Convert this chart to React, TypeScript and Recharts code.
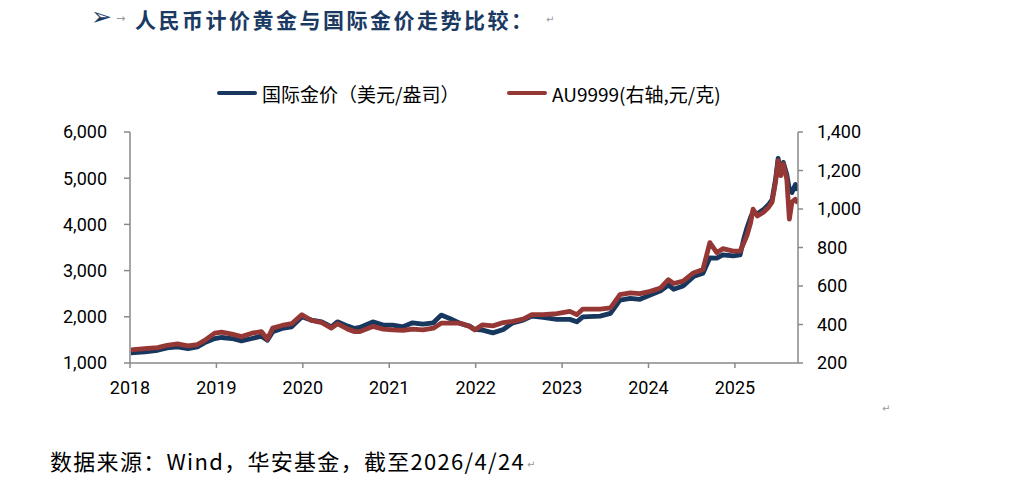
import { Line, LineChart, XAxis, YAxis } from "recharts";

// fractional year positions
const dates = [
  2018.01, 2018.17, 2018.32, 2018.43, 2018.55, 2018.67, 2018.78, 2018.86, 2018.98,
  2019.06, 2019.18, 2019.29, 2019.41, 2019.52, 2019.59, 2019.65, 2019.76, 2019.87, 2019.99,
  2020.1, 2020.22, 2020.33, 2020.4, 2020.52, 2020.6, 2020.66, 2020.81, 2020.93,
  2021.04, 2021.16, 2021.27, 2021.39, 2021.51, 2021.6, 2021.7, 2021.82, 2021.93, 2021.99,
  2022.08, 2022.2, 2022.32, 2022.43, 2022.55, 2022.65, 2022.78, 2022.94,
  2023.09, 2023.17, 2023.24, 2023.44, 2023.56, 2023.67, 2023.79, 2023.9,
  2024.02, 2024.14, 2024.23, 2024.29, 2024.4, 2024.52, 2024.63, 2024.71, 2024.79, 2024.86, 2024.98,
  2025.06, 2025.1, 2025.14, 2025.18, 2025.21, 2025.26, 2025.33, 2025.39, 2025.43, 2025.47,
  2025.5, 2025.53, 2025.56, 2025.6, 2025.63, 2025.66, 2025.7, 2025.73,
];

// 国际金价 (美元/盎司), left axis
const intlGold = [
  1217, 1239, 1276, 1326, 1348, 1313, 1348, 1435, 1530,
  1552, 1530, 1478, 1530, 1580, 1494, 1674, 1748, 1783, 2000,
  1928, 1891, 1783, 1891, 1798, 1748, 1770, 1891, 1820,
  1820, 1783, 1870, 1841, 1870, 2037, 1965, 1857, 1798, 1726,
  1711, 1652, 1726, 1870, 1928, 2015, 1987, 1944,
  1944, 1891, 2000, 2015, 2074, 2363, 2400, 2378,
  2472, 2565, 2689, 2596, 2667, 2870, 2944, 3276, 3270, 3341, 3320,
  3341, 3667, 3928, 4146, 4276, 4233, 4320, 4429, 4537, 4972,
  5429, 5102, 5341, 5081, 4755, 4689, 4863, 4733,
];

// AU9999 (元/克), right axis
const au9999 = [
  268, 275, 280, 292, 299, 289, 296, 316, 355,
  360, 350, 337, 355, 363, 324, 381, 395, 404, 451,
  421, 410, 381, 404, 376, 363, 363, 390, 376,
  372, 369, 376, 372, 381, 407, 407, 407, 390, 372,
  398, 393, 410, 416, 428, 451, 451, 456,
  468, 451, 480, 480, 486, 555, 564, 560,
  572, 590, 633, 613, 625, 668, 686, 825, 773, 794, 781,
  781, 821, 863, 926, 999, 964, 983, 1009, 1036, 1140,
  1251, 1173, 1234, 1156, 947, 1036, 1051, 1030,
];

const yearTicks = [2018, 2019, 2020, 2021, 2022, 2023, 2024, 2025];
const leftTicks = [1000, 2000, 3000, 4000, 5000, 6000];
const rightTicks = [200, 400, 600, 800, 1000, 1200, 1400];

const data = dates.map((d, i) => ({ date: d, intl: intlGold[i], au: au9999[i] }));

const BLUE = "#17375E";
const RED = "#953735";
const NAVY = "#1A3A63";
const AXIS = "#898989";
const CJK = '"Noto Sans CJK SC", sans-serif';

const fmt = (v: number) => v.toLocaleString("en-US");
const tickStyle = { fill: "#000", fontSize: 18, fontFamily: "Roboto" };
const axisLine = { stroke: AXIS, strokeWidth: 1.5 };

function LegendItem({ left, color, label }: { left: number; color: string; label: string }) {
  return (
    <div style={{ position: "absolute", left, top: 80, height: 26, display: "flex", alignItems: "center" }}>
      <span style={{ width: 40, height: 4.5, background: color, borderRadius: 2.5 }} />
      <span style={{ marginLeft: 5, fontSize: 19, fontFamily: CJK, color: "#000" }}>{label}</span>
    </div>
  );
}

const mark = { position: "absolute" as const, color: "#999", fontSize: 10, fontFamily: "DejaVu Sans" };

export default function App() {
  return (
    <div style={{ position: "absolute", left: 0, top: 0, width: 1027, height: 484, background: "#fff" }}>
      <span style={{ position: "absolute", left: 91, top: 2, fontSize: 25, fontFamily: "DejaVu Sans", color: NAVY }}>➢</span>
      <span style={{ ...mark, left: 116, top: 12, fontSize: 11 }}>→</span>
      <span
        style={{
          position: "absolute",
          left: 135,
          top: 4,
          fontSize: 21,
          fontWeight: 700,
          letterSpacing: 2.5,
          fontFamily: CJK,
          color: NAVY,
          whiteSpace: "nowrap",
        }}
      >
        人民币计价黄金与国际金价走势比较：
      </span>
      <span style={{ ...mark, left: 546, top: 14 }}>↵</span>

      <LegendItem left={217} color={BLUE} label="国际金价（美元/盎司）" />
      <LegendItem left={507} color={RED} label="AU9999(右轴,元/克)" />

      <div style={{ position: "absolute", left: 0, top: 0 }}>
        <LineChart width={1027} height={484} data={data} margin={{ top: 132, right: 169, bottom: 91, left: 70 }}>
          <XAxis
            dataKey="date"
            type="number"
            domain={[2018, 2025.73]}
            ticks={yearTicks}
            interval={0}
            allowDataOverflow
            height={30}
            tickSize={5}
            tickMargin={13}
            tick={tickStyle}
            axisLine={axisLine}
            tickLine={axisLine}
          />
          <YAxis
            yAxisId="left"
            domain={[1000, 6000]}
            ticks={leftTicks}
            interval={0}
            width={60}
            tickSize={6}
            tickMargin={17}
            tickFormatter={fmt}
            tick={tickStyle}
            axisLine={axisLine}
            tickLine={axisLine}
          />
          <YAxis
            yAxisId="right"
            orientation="right"
            domain={[200, 1400]}
            ticks={rightTicks}
            interval={0}
            width={60}
            tickSize={5}
            tickMargin={14}
            tickFormatter={fmt}
            tick={tickStyle}
            axisLine={axisLine}
            tickLine={axisLine}
          />
          <Line
            yAxisId="left"
            dataKey="intl"
            type="linear"
            stroke={BLUE}
            strokeWidth={4.8}
            strokeLinejoin="round"
            dot={false}
            isAnimationActive={false}
          />
          <Line
            yAxisId="right"
            dataKey="au"
            type="linear"
            stroke={RED}
            strokeWidth={4.8}
            strokeLinejoin="round"
            dot={false}
            isAnimationActive={false}
          />
        </LineChart>
      </div>

      <span style={{ ...mark, left: 882, top: 403 }}>↵</span>
      <span
        style={{
          position: "absolute",
          left: 50,
          top: 444,
          fontSize: 22,
          letterSpacing: 1.3,
          fontFamily: CJK,
          color: "#000",
          whiteSpace: "nowrap",
        }}
      >
        数据来源：Wind，华安基金，截至2026/4/24
      </span>
      <span style={{ ...mark, left: 527, top: 459 }}>↵</span>
    </div>
  );
}
